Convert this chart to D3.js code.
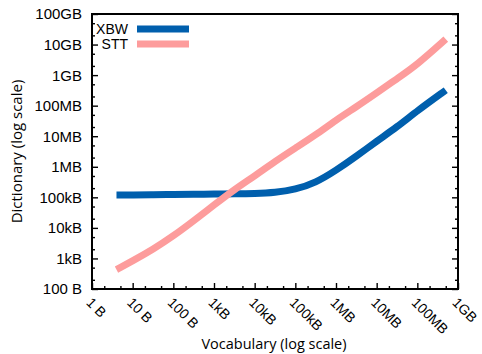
<!DOCTYPE html>
<html>
<head>
<meta charset="utf-8">
<script src="https://cdn.jsdelivr.net/npm/d3@7"></script>
<style>
  body { margin: 0; background: #fff; }
  svg text { font-family: "Liberation Sans", Arial, sans-serif; }
</style>
</head>
<body>
<div id="chart"></div>
<script>
// vocabulary size (bytes) and dictionary sizes (bytes)
const vocab = [4, 10, 32, 100, 316, 1e3, 3.16e3, 1e4, 3.16e4, 1e5, 3.16e5, 1e6, 3.16e6, 1e7, 3.16e7, 1e8, 5e8]
const xbw = [1.2e5, 1.2e5, 1.22e5, 1.24e5, 1.26e5, 1.28e5, 1.3e5, 1.33e5, 1.42e5, 1.8e5, 3.0e5, 7.6e5, 2.2e6, 6.9e6, 2.0e7, 6.8e7, 3.2e8]
const stt = [4.3e2, 8.3e2, 2.0e3, 5.4e3, 1.7e4, 5.6e4, 1.8e5, 5.0e5, 1.5e6, 4.1e6, 1.1e7, 3.4e7, 9.1e7, 2.6e8, 7.6e8, 2.2e9, 1.5e10]
const xTicks = [1, 10, 100, 1e3, 1e4, 1e5, 1e6, 1e7, 1e8, 1e9]
const xTickLabels = ["1 B", "10 B", "100 B", "1kB", "10kB", "100kB", "1MB", "10MB", "100MB", "1GB"]
const yTicks = [1e2, 1e3, 1e4, 1e5, 1e6, 1e7, 1e8, 1e9, 1e10, 1e11]
const yTickLabels = ["100 B", "1kB", "10kB", "100kB", "1MB", "10MB", "100MB", "1GB", "10GB", "100GB"]
const seriesNames = ["XBW", "STT"]
const seriesColors = ["#005fad", "#fd9c9c"]

const W = 482, H = 354
const margin = { top: 14, right: 24, bottom: 65, left: 92 }
const width = W - margin.left - margin.right
const height = H - margin.top - margin.bottom

const svg = d3.select("#chart").append("svg")
  .attr("width", W).attr("height", H)
const g = svg.append("g").attr("transform", `translate(${margin.left},${margin.top})`)

const x = d3.scaleLog().domain([1, 1e9]).range([0, width])
const y = d3.scaleLog().domain([1e2, 1e11]).range([height, 0])

// minor ticks at 2 and 5 of each decade
const minor = (lo, hi) => {
  const out = []
  for (let e = lo; e < hi; e++) { out.push(2 * 10 ** e, 5 * 10 ** e) }
  return out
}

// x axis (bottom, ticks inward)
const xAxis = g.append("g").attr("transform", `translate(0,${height})`)
xAxis.call(d3.axisBottom(x).tickValues(xTicks).tickSize(-6).tickFormat(""))
xAxis.append("g").call(d3.axisBottom(x).tickValues(minor(0, 9)).tickSize(-3).tickFormat(""))

g.selectAll(".xlab")
  .data(xTicks)
  .join("text")
  .attr("class", "xlab")
  .attr("transform", d => `translate(${x(d) - 3},${height + 11}) rotate(45)`)
  .attr("font-size", 14)
  .attr("dy", "0.35em")
  .text((d, i) => xTickLabels[i])

// y axis left + mirrored right
const yAxisL = g.append("g")
yAxisL.call(d3.axisLeft(y).tickValues(yTicks).tickSize(-6).tickFormat(""))
yAxisL.append("g").call(d3.axisLeft(y).tickValues(minor(2, 11)).tickSize(-3).tickFormat(""))
const yAxisR = g.append("g").attr("transform", `translate(${width},0)`)
yAxisR.call(d3.axisRight(y).tickValues(yTicks).tickSize(-6).tickFormat(""))
yAxisR.append("g").call(d3.axisRight(y).tickValues(minor(2, 11)).tickSize(-3).tickFormat(""))
g.selectAll(".domain").remove()
g.selectAll("line").attr("stroke", "#000").attr("stroke-width", 1.4)

g.selectAll(".ylab")
  .data(yTicks)
  .join("text")
  .attr("class", "ylab")
  .attr("x", -10)
  .attr("y", d => y(d))
  .attr("dy", "0.36em")
  .attr("text-anchor", "end")
  .attr("font-size", 15)
  .text((d, i) => yTickLabels[i])

// frame
g.append("rect")
  .attr("width", width).attr("height", height)
  .attr("fill", "none").attr("stroke", "#000").attr("stroke-width", 2)

// lines
const line = d3.line()
  .x(d => x(d[0]))
  .y(d => y(d[1]))
  .curve(d3.curveBasis)

const series = [xbw, stt]
series.forEach((vals, i) => {
  g.append("path")
    .datum(vocab.map((v, j) => [v, vals[j]]))
    .attr("fill", "none")
    .attr("stroke", seriesColors[i])
    .attr("stroke-width", 7)
    .attr("d", line)
})

// legend
const legend = g.append("g")
seriesNames.forEach((name, i) => {
  const ly = 15 + i * 15
  legend.append("text")
    .attr("x", 36).attr("y", ly)
    .attr("dy", "0.36em")
    .attr("text-anchor", "end")
    .attr("font-size", 14)
    .text(name)
  legend.append("line")
    .attr("x1", 45).attr("x2", 97)
    .attr("y1", ly).attr("y2", ly)
    .attr("stroke", seriesColors[i])
    .attr("stroke-width", 7)
})

// axis titles
svg.append("text")
  .attr("x", margin.left + width / 2 - 1)
  .attr("y", 349)
  .attr("text-anchor", "middle")
  .attr("font-size", 14.5)
  .style("font-family", "'Open Sans', sans-serif")
  .text("Vocabulary (log scale)")

svg.append("text")
  .attr("transform", `translate(22,${margin.top + height / 2}) rotate(-90)`)
  .attr("text-anchor", "middle")
  .attr("font-size", 15)
  .style("font-family", "'Open Sans', sans-serif")
  .text("Dictionary (log scale)")
</script>
</body>
</html>
